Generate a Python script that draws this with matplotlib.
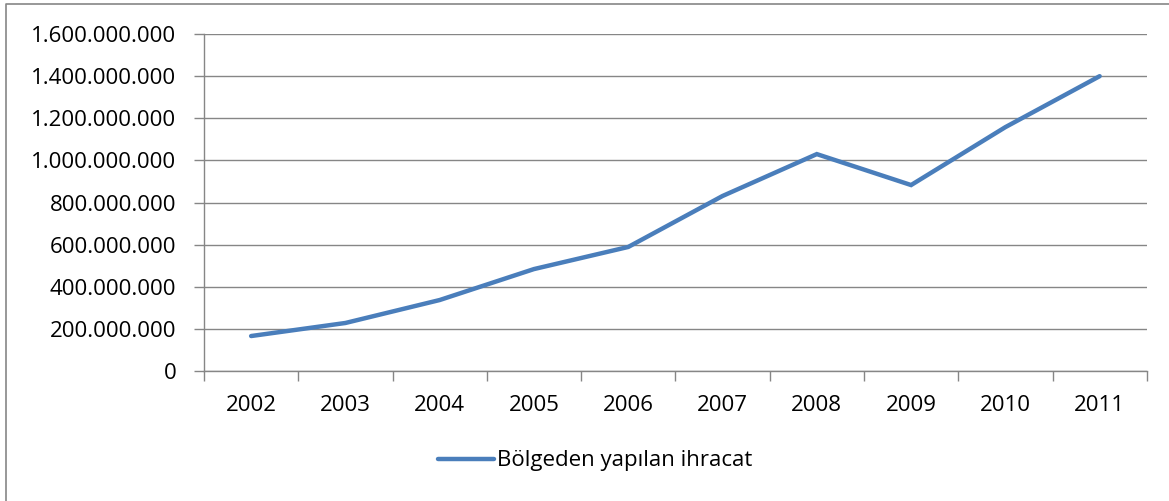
"""Line chart: exports from the region, 2002-2011 (Excel-style)."""

import matplotlib.pyplot as plt
import matplotlib as mpl
import numpy as np
from matplotlib.lines import Line2D
from matplotlib.ticker import FuncFormatter, MultipleLocator

mpl.rcParams.update(
    {
        "font.family": ["Open Sans", "DejaVu Sans"],
        "font.size": 16,
    }
)

YEARS = ["2002", "2003", "2004", "2005", "2006", "2007", "2008", "2009", "2010", "2011"]
EXPORTS = [166e6, 228e6, 337e6, 484e6, 589e6, 831e6, 1030e6, 883e6, 1158e6, 1400e6]
SERIES_LABEL = "Bölgeden yapılan ihracat"

LINE_COLOR = "#4a7ebb"
GRID_COLOR = "#868686"


def _dotted_thousands(v, _pos):
    return f"{int(round(v)):,}".replace(",", ".")


def main() -> None:
    fig = plt.figure(figsize=(11.69, 5.01), dpi=100, facecolor="white")
    ax = fig.add_axes([0.1745, 0.2595, 0.8065, 0.6725])

    x = np.arange(len(YEARS))
    line, = ax.plot(x, EXPORTS, color=LINE_COLOR, linewidth=3.2,
                    solid_capstyle="round", solid_joinstyle="miter",
                    label=SERIES_LABEL)

    ax.set_xlim(-0.5, len(YEARS) - 0.5)
    ax.set_ylim(0, 1.6e9)
    ax.yaxis.set_major_locator(MultipleLocator(2e8))
    ax.yaxis.set_major_formatter(FuncFormatter(_dotted_thousands))
    ax.grid(axis="y", color=GRID_COLOR, linewidth=1.0)
    ax.set_axisbelow(True)

    # category labels at centers, tick marks between categories
    ax.set_xticks(x)
    ax.set_xticklabels(YEARS)
    ax.set_xticks(np.arange(-0.5, len(YEARS), 1), minor=True)
    ax.tick_params(axis="x", which="major", length=0, pad=17, labelsize=16)
    ax.tick_params(axis="x", which="minor", length=7, width=1, color=GRID_COLOR,
                   direction="out")
    ax.tick_params(axis="y", length=7, width=1, color=GRID_COLOR, pad=13,
                   labelsize=16)

    for side in ("top", "right"):
        ax.spines[side].set_visible(False)
    for side in ("left", "bottom"):
        ax.spines[side].set_color(GRID_COLOR)
        ax.spines[side].set_linewidth(1.0)

    fig.legend(handles=[line], loc="center", bbox_to_anchor=(0.509, 0.08),
               frameon=False, fontsize=16, handlelength=2.5, handletextpad=0.13)

    # chart frame: only its left and top edges fall inside the picture
    fig.add_artist(Line2D([0.005, 0.005, 1.0], [0.0, 0.992, 0.992],
                          transform=fig.transFigure, color=GRID_COLOR, linewidth=1.2))

    fig.savefig("out.png", dpi=100, facecolor="white")
    plt.close(fig)


if __name__ == "__main__":
    main()
